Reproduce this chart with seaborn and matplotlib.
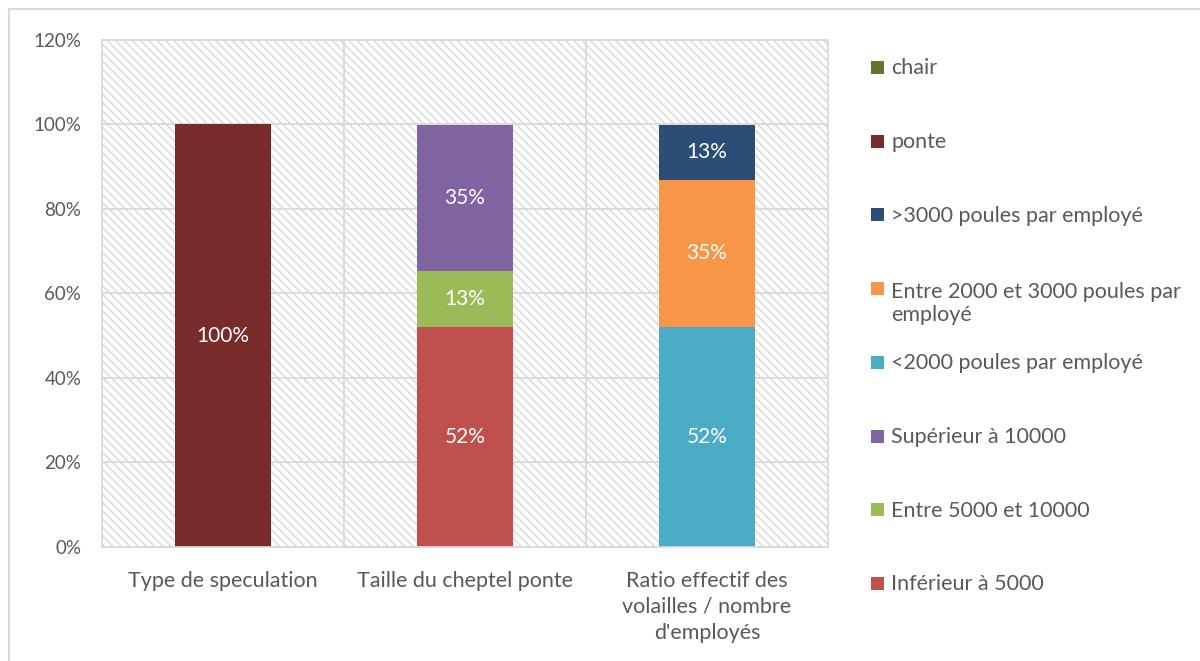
import numpy as np
import pandas as pd
import matplotlib.pyplot as plt
import seaborn as sns
from matplotlib.patches import Rectangle

categories = ["Type de speculation", "Taille du cheptel ponte",
              "Ratio effectif des\nvolailles / nombre\nd'employés"]

# shares per category, listed bottom -> top of the stack
inferieur_5000 = [0.0, 0.5217, 0.0]
entre_5000_10000 = [0.0, 0.1304, 0.0]
superieur_10000 = [0.0, 0.3478, 0.0]
moins_2000 = [0.0, 0.0, 0.5217]
entre_2000_3000 = [0.0, 0.0, 0.3478]
plus_3000 = [0.0, 0.0, 0.1304]
ponte = [1.0, 0.0, 0.0]
chair = [0.0, 0.0, 0.0]

series_names = ["Inférieur à 5000", "Entre 5000 et 10000", "Supérieur à 10000",
                "<2000 poules par employé", "Entre 2000 et 3000 poules par\nemployé",
                ">3000 poules par employé", "ponte", "chair"]
series_values = [inferieur_5000, entre_5000_10000, superieur_10000, moins_2000,
                 entre_2000_3000, plus_3000, ponte, chair]
colors = ["#C0504D", "#9BBB59", "#8064A2", "#4BACC6", "#F79646",
          "#2C4D75", "#772C2A", "#5F7530"]

yticks = [0, 0.2, 0.4, 0.6, 0.8, 1.0, 1.2]

sns.set_style("white")
plt.rcParams['font.family'] = ['Lato', 'DejaVu Sans']
plt.rcParams['hatch.color'] = '#dadada'
plt.rcParams['hatch.linewidth'] = 1.1
txt = '#595959'
grid_c = '#d9d9d9'

rows = []
for name, vals in zip(series_names, series_values):
    for cat, v in zip(categories, vals):
        rows.append({'cat': cat, 'series': name, 'value': v})
df = pd.DataFrame(rows)
df['top'] = df.groupby('cat', sort=False)['value'].cumsum()
df['bottom'] = df['top'] - df['value']

fig = plt.figure(figsize=(12, 6.61), dpi=100)
ax = fig.add_axes([0.085, 0.1725, 0.605, 0.767])

# hatched background
ax.add_patch(Rectangle((0, 0), 1, 1, transform=ax.transAxes, facecolor='white',
                       edgecolor='#dadada', hatch='\\\\\\\\', lw=0, zorder=0))

# draw cumulative tops from the top of the stack down
for name, col in reversed(list(zip(series_names, colors))):
    sub = df[df['series'] == name]
    sns.barplot(data=sub, x='cat', y='top', color=col, width=0.4,
                saturation=1, ax=ax, order=categories, zorder=2,
                edgecolor='none', linewidth=0)

for _, r in df.iterrows():
    if r['value'] > 0:
        i = categories.index(r['cat'])
        ax.text(i, r['bottom'] + r['value'] / 2, f"{round(r['value'] * 100)}%",
                ha='center', va='center', color='white', fontsize=15, zorder=3)

ax.set_xlim(-0.5, 2.5)
ax.set_ylim(0, 1.2)
ax.set_yticks(yticks)
ax.set_yticklabels([f"{int(round(t * 100))}%" for t in yticks])
ax.set_xticks(range(len(categories)))
ax.set_xticklabels(categories, linespacing=1.4, fontsize=15.5)
ax.set_xticks([0.5, 1.5], minor=True)
ax.set_xlabel('')
ax.set_ylabel('')
ax.tick_params(axis='both', which='both', length=0, colors=txt)
ax.tick_params(axis='y', labelsize=13.5, pad=15)
ax.tick_params(axis='x', pad=17)
ax.grid(axis='y', color=grid_c, lw=1.3, zorder=1)
ax.grid(axis='x', which='minor', color=grid_c, lw=1.3, zorder=1)
ax.set_axisbelow(True)
for sp in ax.spines.values():
    sp.set_color(grid_c)
    sp.set_linewidth(1.3)

# legend on the right, drawn in order top -> bottom
for k, (name, col) in enumerate(reversed(list(zip(series_names, colors)))):
    y = 1 - (67 + 73.7 * k) / 661
    extra = 25 * name.count('\n')
    fig.add_artist(Rectangle((871 / 1200, y - 7 / 661), 13 / 1200, 13 / 661,
                             transform=fig.transFigure, facecolor=col, lw=0))
    fig.text(891 / 1200, y - (7.5 + extra) / 661, name, ha='left', va='baseline',
             color=txt, fontsize=15.5, linespacing=1.15)

# outer chart border
fig.add_artist(Rectangle((9 / 1200, -0.05), 1.0, 1.05 - 9 / 661,
                         transform=fig.transFigure, facecolor='none',
                         edgecolor=grid_c, lw=1.5))

fig.savefig('out.png', dpi=100)
